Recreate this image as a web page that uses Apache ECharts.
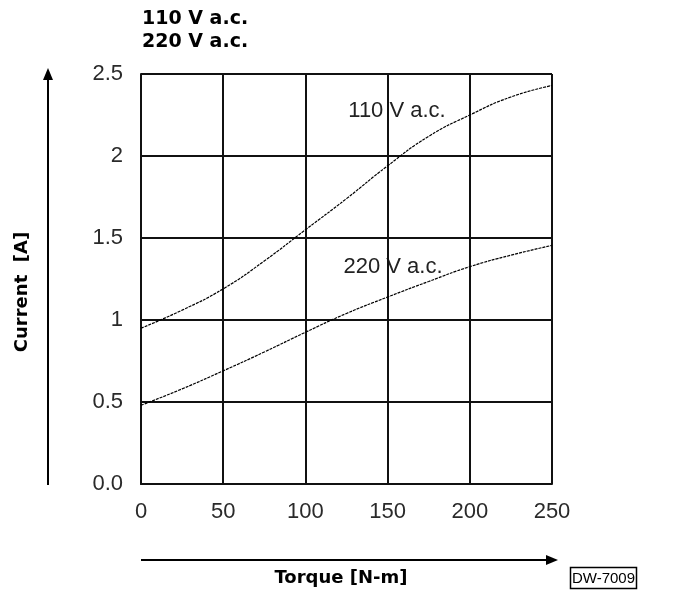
<!DOCTYPE html>
<html>
<head>
<meta charset="utf-8">
<script src="https://cdn.jsdelivr.net/npm/echarts@6/dist/echarts.min.js"></script>
<style>html,body{margin:0;padding:0;background:#fff}#c{width:690px;height:591px}</style>
</head>
<body>
<div id="c"></div>
<script>
// Data
var torque = [0, 25, 50, 75, 100, 125, 150, 175, 200, 225, 250];
var current110 = [0.95, 1.06, 1.19, 1.36, 1.55, 1.74, 1.94, 2.12, 2.25, 2.36, 2.43];
var current220 = [0.48, 0.58, 0.69, 0.805, 0.925, 1.04, 1.14, 1.235, 1.325, 1.395, 1.455];
var xTickLabels = ['0', '50', '100', '150', '200', '250'];
var yTickLabels = ['0.0', '0.5', '1', '1.5', '2', '2.5'];
var titleLines = ['110 V a.c.', '220 V a.c.'];
var seriesNames = ['110 V a.c.', '220 V a.c.'];
var xName = 'Torque [N-m]';
var yName = 'Current  [A]';
var drawingNo = 'DW-7009';

function pairs(xs, ys) { return xs.map(function (x, i) { return [x, ys[i]]; }); }

var chart = echarts.init(document.getElementById('c'), null, { renderer: 'canvas' });
var gridColor = '#111';
var regFont = '"Liberation Sans", Arial, sans-serif';
var boldFont = '"DejaVu Sans", sans-serif';
var lineStyle = { color: '#000', width: 1.2, type: [3, 1] };

chart.setOption({
  animation: false,
  backgroundColor: '#fff',
  grid: { left: 141, top: 74, right: 138, bottom: 107 },
  xAxis: {
    type: 'value', min: 0, max: 250, interval: 50,
    axisLine: { show: true, lineStyle: { color: gridColor, width: 2 } },
    axisTick: { show: false },
    splitLine: { show: true, lineStyle: { color: gridColor, width: 2 } },
    axisLabel: {
      margin: 17, color: '#2a2a2a', fontFamily: regFont, fontSize: 22,
      formatter: function (v) { return xTickLabels[Math.round(v / 50)]; }
    }
  },
  yAxis: {
    type: 'value', min: 0, max: 2.5, interval: 0.5,
    axisLine: { show: true, lineStyle: { color: gridColor, width: 2 } },
    axisTick: { show: false },
    splitLine: { show: true, lineStyle: { color: gridColor, width: 2 } },
    axisLabel: {
      margin: 18, color: '#2a2a2a', fontFamily: regFont, fontSize: 22,
      formatter: function (v) { return yTickLabels[Math.round(v / 0.5)]; }
    }
  },
  series: [
    { name: seriesNames[0], type: 'line', smooth: true, symbol: 'none', data: pairs(torque, current110), lineStyle: lineStyle },
    { name: seriesNames[1], type: 'line', smooth: true, symbol: 'none', data: pairs(torque, current220), lineStyle: lineStyle }
  ],
  graphic: [
    { type: 'text', left: 142, top: 10, style: { text: titleLines[0], font: 'bold 19px ' + boldFont, fill: '#000' } },
    { type: 'text', left: 142, top: 33, style: { text: titleLines[1], font: 'bold 19px ' + boldFont, fill: '#000' } },
    { type: 'text', x: 397, y: 111, style: { text: seriesNames[0], font: '22px ' + regFont, fill: '#222', align: 'center', verticalAlign: 'middle' } },
    { type: 'text', x: 393, y: 267, style: { text: seriesNames[1], font: '22px ' + regFont, fill: '#222', align: 'center', verticalAlign: 'middle' } },
    // y arrow
    { type: 'line', shape: { x1: 48, y1: 485, x2: 48, y2: 78 }, style: { stroke: '#000', lineWidth: 2 } },
    { type: 'polygon', shape: { points: [[48, 68], [43, 80], [53, 80]] }, style: { fill: '#000' } },
    { type: 'text', x: 22, y: 292, rotation: Math.PI / 2, style: { text: yName, font: 'bold 18px ' + boldFont, fill: '#000', align: 'center', verticalAlign: 'middle' } },
    // x arrow
    { type: 'line', shape: { x1: 141, y1: 560, x2: 549, y2: 560 }, style: { stroke: '#000', lineWidth: 2 } },
    { type: 'polygon', shape: { points: [[558, 560], [546, 555], [546, 565]] }, style: { fill: '#000' } },
    { type: 'text', x: 341, y: 578, style: { text: xName, font: 'bold 18px ' + boldFont, fill: '#000', align: 'center', verticalAlign: 'middle' } },
    // drawing number box
    { type: 'rect', shape: { x: 570.5, y: 567.5, width: 66, height: 21 }, style: { fill: '#fff', stroke: '#000', lineWidth: 1.5 } },
    { type: 'text', x: 603.5, y: 578.5, style: { text: drawingNo, font: '15px ' + regFont, fill: '#000', align: 'center', verticalAlign: 'middle' } }
  ]
});
</script>
</body>
</html>
